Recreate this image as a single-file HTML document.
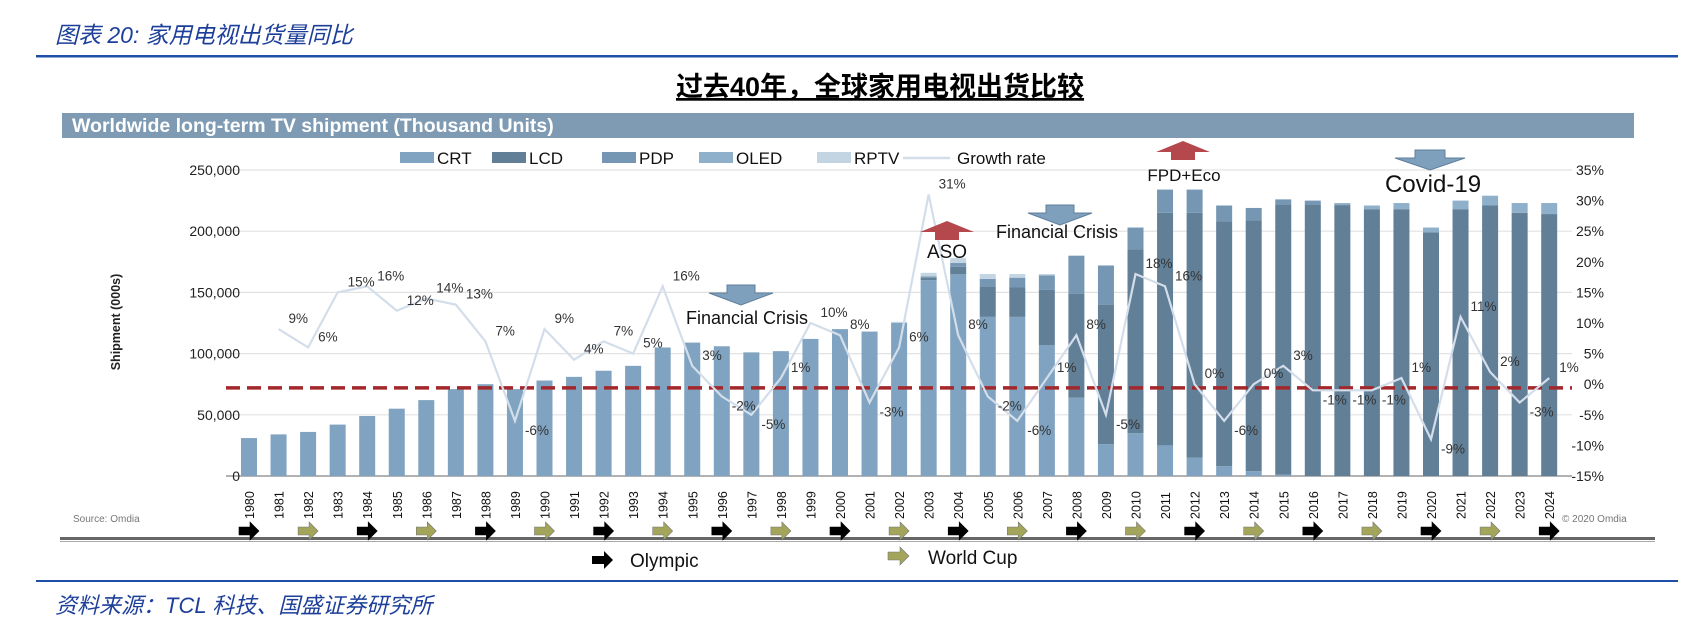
<!DOCTYPE html>
<html><head><meta charset="utf-8">
<style>
body{margin:0;background:#fff;width:1682px;height:627px;overflow:hidden;font-family:"Liberation Sans","Noto Sans CJK SC",sans-serif}
svg{position:absolute;left:0;top:0}
</style></head>
<body>
<svg id="chart" width="1682" height="627" viewBox="0 0 1682 627" xmlns="http://www.w3.org/2000/svg">
<text x="55" y="43" font-size="23" font-style="italic" fill="#1d3f9a" font-family="Liberation Sans,Noto Sans CJK SC,sans-serif">图表 20:  家用电视出货量同比</text>
<rect x="36" y="55" width="1642" height="2.5" fill="#1e4fa8"/>
<text x="880" y="96" font-size="27" font-weight="bold" text-anchor="middle" fill="#000" text-decoration="underline" font-family="Liberation Sans,Noto Sans CJK SC,sans-serif">过去40年，全球家用电视出货比较</text>
<rect x="62" y="113" width="1572" height="25" fill="#7f9bb3"/>
<text x="72" y="132" font-size="19.5" font-weight="bold" fill="#fff">Worldwide long-term TV shipment (Thousand Units)</text>
<g id="grid"></g><g id="bars"></g><g id="line"></g><g id="labels"></g><g id="axes"></g><g id="legend"></g>
<text transform="translate(120,322) rotate(-90)" font-size="12.5" font-weight="bold" text-anchor="middle" fill="#222">Shipment (000s)</text>
<text x="73" y="522" font-size="10" fill="#777">Source: Omdia</text>
<text x="1562" y="522" font-size="10" fill="#777">© 2020 Omdia</text>
<rect x="60" y="537" width="1595" height="3" fill="#666"/>
<rect x="60" y="541" width="1595" height="1" fill="#aaa"/>
<g id="events"></g>
<path d="M592,556h12v-5l9,9l-9,9v-5h-12z" fill="#000"/>
<text x="630" y="567" font-size="19" fill="#111">Olympic</text>
<path d="M888,552h12v-5l9,9l-9,9v-5h-12z" fill="#a3a55a" stroke="#777" stroke-width="0.6"/>
<text x="928" y="564" font-size="19" fill="#111">World Cup</text>
<rect x="36" y="580" width="1642" height="2" fill="#1e4fa8"/>
<text x="55" y="613" font-size="22" font-style="italic" fill="#1d3f9a" font-family="Liberation Sans,Noto Sans CJK SC,sans-serif">资料来源：TCL 科技、国盛证券研究所</text>
<path d="M727,285h28v8h18l-32,12l-32,-12h18z" fill="#7fa0bd" stroke="#5f7f9b" stroke-width="1"/>
<text x="686" y="324" font-size="18" fill="#111">Financial Crisis</text>
<path d="M935,240v-8h-15l27,-11l27,11h-15v8z" fill="#b5484c"/>
<text x="947" y="258" font-size="19" text-anchor="middle" fill="#111">ASO</text>
<path d="M1046,205h28v8h18l-32,12l-32,-12h18z" fill="#7fa0bd" stroke="#5f7f9b" stroke-width="1"/>
<text x="996" y="238" font-size="18" fill="#111">Financial Crisis</text>
<path d="M1171,160v-8h-15l27,-11l27,11h-15v8z" fill="#b5484c"/>
<text x="1184" y="181" font-size="17" text-anchor="middle" fill="#111">FPD+Eco</text>
<path d="M1415,150h30v8h20l-35,12l-35,-12h20z" fill="#7fa0bd" stroke="#5f7f9b" stroke-width="1"/>
<text x="1385" y="192" font-size="24" fill="#111">Covid-19</text>
</svg>
<script>
const years=[];for(let y=1980;y<=2024;y++)years.push(y);
const crt=[31,34,36,42,49,55,62,71,75,71,78,81,86,90,105,109,106,101,102,112,120,118,125,160,165,130,130,107,64,26,35,25,15,8,4,1,0,0,0,0,0,0,0,0,0];
const lcd=[0,0,0,0,0,0,0,0,0,0,0,0,0,0,0,0,0,0,0,0,0,0,0,2,6,25,24,45,85,114,150,190,200,200,205,221,222,221,218,218,199,218,221,215,214];
const pdp=[0,0,0,0,0,0,0,0,0,0,0,0,0,0,0,0,0,0,0,0,0,0,0,1,3,6,8,12,31,32,18,19,19,13,10,4,3,1,0,0,0,0,0,0,0];
const oled=[0,0,0,0,0,0,0,0,0,0,0,0,0,0,0,0,0,0,0,0,0,0,0,0,0,0,0,0,0,0,0,0,0,0,0,0,0,1,3,5,4,7,8,8,9];
const rptv=[0,0,0,0,0,0,0,0,0,0,0,0,0,0,0,0,0,0,0,0,0,0,1,3,4,4,3,1,0,0,0,0,0,0,0,0,0,0,0,0,0,0,0,0,0];
const growth=[null,9,6,15,16,12,14,13,7,-6,9,4,7,5,16,3,-2,-5,1,10,8,-3,6,31,8,-2,-6,1,8,-5,18,16,0,-6,0,3,-1,-1,-1,1,-9,11,2,-3,1];
const leftTicks=[0,50000,100000,150000,200000,250000];
const rightTicks=[-15,-10,-5,0,5,10,15,20,25,30,35];
const refLineValue=-0.6;
const olympicYears=[1980,1984,1988,1992,1996,2000,2004,2008,2012,2016,2020,2024];
const worldCupYears=[1982,1986,1990,1994,1998,2002,2006,2010,2014,2018,2022];

const NS="http://www.w3.org/2000/svg";
const X0=249,STEP=29.55,Y0=476,YTOP=170;
const xS=i=>X0+i*STEP;
const yL=v=>Y0-v/250000*(Y0-YTOP);
const yR=p=>YTOP+(35-p)/50*(Y0-YTOP);
function mk(tag,attrs,parent,txt){const e=document.createElementNS(NS,tag);for(const k in attrs)e.setAttribute(k,attrs[k]);if(txt!=null)e.textContent=txt;parent.appendChild(e);return e;}
const G=id=>document.getElementById(id);

leftTicks.forEach(t=>{
  const g=mk('line',{x1:226,x2:1572,y1:yL(t),y2:yL(t),stroke:t===0?'#999':'#e2e2e2','stroke-width':t===0?1.5:1.2},G('grid'));
  
  
  const l=mk('text',{x:240,y:yL(t)+5,'font-size':14,'text-anchor':'end',fill:'#222'},G('axes'),t===0?'0':t.toLocaleString('en-US'));
  
  
});
rightTicks.forEach(t=>{
  const l=mk('text',{x:1604,y:yR(t)+5,'font-size':14,'text-anchor':'end',fill:'#222'},G('axes'),t+'%');
  
  
});
const series=[[crt,'#7fa3c0','crt'],[lcd,'#627f98','lcd'],[pdp,'#7597b4','pdp'],[oled,'#8fb0cb','oled'],[rptv,'#c3d4e3','rptv']];
years.forEach((yr,i)=>{
  let acc=0;
  series.forEach(([arr,col,nm])=>{
    const v=arr[i]*1000;if(v<=0)return;
    const r=mk('rect',{x:xS(i)-8,y:yL(acc+v),width:16,height:yL(acc)-yL(acc+v),fill:col},G('bars'));
    
    
    acc+=v;
  });
  const t=mk('text',{transform:`translate(${xS(i)+5},519) rotate(-90)`,'font-size':12.5,fill:'#111'},G('axes'),String(yr));
  
  
});
const ref=mk('line',{x1:226,x2:1572,y1:yR(refLineValue),y2:yR(refLineValue),stroke:'#a3282c','stroke-width':3.5,'stroke-dasharray':'14 7'},G('line'));


let d='';
growth.forEach((g,i)=>{if(g==null)return;d+=(d?'L':'M')+xS(i)+','+yR(g);});
const pl=mk('path',{d:d,fill:'none',stroke:'#d3deea','stroke-width':2.2},G('line'));


growth.forEach((g,i)=>{if(g==null)return;
  const t=mk('text',{x:xS(i)+10,y:yR(g)+(g<0?14:-6),'font-size':13.5,fill:'#333'},G('labels'),g+'%');
  
  
});
function evArrow(yr,fill,stroke,name){
  const i=years.indexOf(yr);const x=xS(i)-10,y=531;
  const p=mk('path',{d:`M${x},${y-4}h11v-5l9,9l-9,9v-5h-11z`,fill:fill,stroke:stroke,'stroke-width':0.6},G('events'));
  
  
}
olympicYears.forEach(y=>evArrow(y,'#000','#000','olympic-arrow'));
worldCupYears.forEach(y=>evArrow(y,'#a3a55a','#777','worldcup-arrow'));
const lg=[['CRT','#7fa3c0',400],['LCD','#627f98',492],['PDP','#7597b4',602],['OLED','#8fb0cb',699],['RPTV','#c3d4e3',817]];
lg.forEach(([n,c,lx])=>{
  const r=mk('rect',{x:lx,y:152,width:34,height:11,fill:c},G('legend'));
  
  
  const t=mk('text',{x:lx+37,y:164,'font-size':17,fill:'#111'},G('legend'),n);
  
  
});
const gl=mk('line',{x1:903,x2:950,y1:158,y2:158,stroke:'#d3deea','stroke-width':2.5},G('legend'));


const gt=mk('text',{x:957,y:164,'font-size':17,fill:'#111'},G('legend'),'Growth rate');


</script>
</body></html>
